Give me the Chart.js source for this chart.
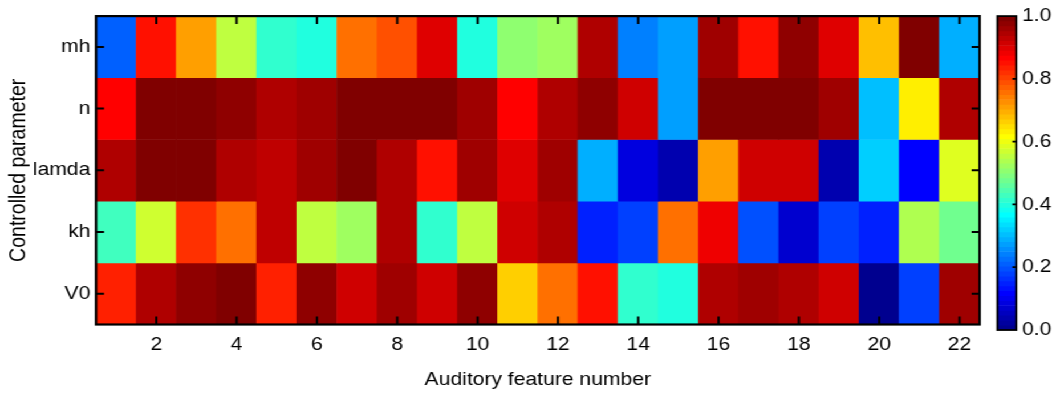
<!DOCTYPE html>
<html>
<head>
<meta charset="utf-8">
<title>Controlled parameter vs auditory feature</title>
<script src="https://cdn.jsdelivr.net/npm/chart.js@4.4.1/dist/chart.umd.min.js"></script>
<style>
  html, body { margin: 0; padding: 0; background: #fff; overflow: hidden; }
  /* the whole figure is drawn at a narrower width and widened horizontally */
  #stage { position: absolute; left: 0; top: 0; width: 926px; height: 394px;
           transform: scaleX(1.1404); transform-origin: 0 0; }
  #heat { position: absolute; left: 0; top: 0; width: 866px; height: 394px; }
  #bar  { position: absolute; left: 866px; top: 0; width: 60px; height: 394px; }
</style>
</head>
<body>
<div id="stage">
  <div id="heat"><canvas id="heatCanvas"></canvas></div>
  <div id="bar"><canvas id="barCanvas"></canvas></div>
</div>
<script>
// ---- data -------------------------------------------------------------
const featureNumbers = [1, 2, 3, 4, 5, 6, 7, 8, 9, 10, 11, 12, 13, 14, 15, 16, 17, 18, 19, 20, 21, 22];
const rowLabels = ['mh', 'n', 'lamda', 'kh', 'V0'];

const mh    = [0.211, 0.852, 0.711, 0.555, 0.414, 0.398, 0.758, 0.789, 0.898, 0.398, 0.508, 0.523, 0.945, 0.242, 0.273, 0.961, 0.852, 0.977, 0.898, 0.680, 0.992, 0.289];
const n     = [0.867, 0.992, 0.992, 0.977, 0.945, 0.961, 0.992, 0.992, 0.992, 0.961, 0.867, 0.945, 0.977, 0.914, 0.273, 0.992, 0.992, 0.992, 0.961, 0.305, 0.633, 0.945];
const lamda = [0.945, 0.992, 0.992, 0.945, 0.930, 0.961, 0.992, 0.945, 0.852, 0.961, 0.898, 0.961, 0.289, 0.086, 0.039, 0.711, 0.914, 0.914, 0.039, 0.320, 0.117, 0.586];
const kh    = [0.430, 0.570, 0.820, 0.758, 0.930, 0.555, 0.523, 0.945, 0.414, 0.555, 0.914, 0.945, 0.148, 0.180, 0.758, 0.883, 0.195, 0.070, 0.180, 0.148, 0.539, 0.477];
const V0    = [0.836, 0.945, 0.977, 0.992, 0.836, 0.977, 0.914, 0.961, 0.914, 0.977, 0.664, 0.758, 0.852, 0.414, 0.398, 0.945, 0.961, 0.945, 0.914, 0.008, 0.180, 0.961];

const xTickValues = [2, 4, 6, 8, 10, 12, 14, 16, 18, 20, 22];
const colorbarTicks = [0, 0.2, 0.4, 0.6, 0.8, 1.0];

// ---- 64-level jet colour map ------------------------------------------
const LEVELS = 64;
function jetLevel(i) {           // i = 1..64
  const u = k => (k <= 16 ? k / 16 : (k <= 31 ? 1 : (48 - k) / 16));
  const r = i >= 25 ? u(i - 24) : 0;
  const g = (i >= 9 && i <= 55) ? u(i - 8) : 0;
  const b = i <= 39 ? u(i + 8) : 0;
  return `rgb(${Math.round(r * 255)},${Math.round(g * 255)},${Math.round(b * 255)})`;
}
function jetColor(v) {
  const i = Math.min(LEVELS, Math.max(1, Math.floor(v * LEVELS) + 1));
  return jetLevel(i);
}

const SX = 1.1404;               // horizontal widening of #stage
const FONT = "'Liberation Sans', Arial, Helvetica, sans-serif";
Chart.defaults.font.family = FONT;
Chart.defaults.font.size = 18.5;
Chart.defaults.color = '#000';
Chart.defaults.animation = false;

// ---- heat map ---------------------------------------------------------
const rows = [mh, n, lamda, kh, V0];
const heatDatasets = rows.map((row, r) => ({
  label: rowLabels[r],
  data: row.map((v, c) => ({ x: featureNumbers[c], y: [r + 0.5, r + 1.5] })),
  backgroundColor: row.map(jetColor),
  borderWidth: 0,
  grouped: false,
  barPercentage: 1,
  categoryPercentage: 1
}));

// box round the plot with short inward ticks on all four sides
const boxTicks = {
  id: 'boxTicks',
  afterDatasetsDraw(chart) {
    const { ctx, chartArea: a, scales } = chart;
    const L = 8, Lh = 8 / SX;
    ctx.save();
    ctx.strokeStyle = '#000';
    ctx.lineWidth = 2;
    ctx.beginPath();
    scales.x.ticks.forEach(t => {
      const px = scales.x.getPixelForValue(t.value);
      ctx.moveTo(px, a.bottom); ctx.lineTo(px, a.bottom - L);
      ctx.moveTo(px, a.top);    ctx.lineTo(px, a.top + L);
    });
    scales.y.ticks.forEach(t => {
      const py = scales.y.getPixelForValue(t.value);
      ctx.moveTo(a.left, py);  ctx.lineTo(a.left + Lh, py);
      ctx.moveTo(a.right, py); ctx.lineTo(a.right - Lh, py);
    });
    ctx.stroke();
    ctx.lineWidth = 2.2;
    ctx.strokeRect(a.left, a.top, a.right - a.left, a.bottom - a.top);
    ctx.restore();
  }
};

new Chart(document.getElementById('heatCanvas'), {
  type: 'bar',
  data: { datasets: heatDatasets },
  options: {
    responsive: true,
    maintainAspectRatio: false,
    layout: { padding: { left: 0, top: 14.5, right: 7, bottom: 0 } },
    plugins: { legend: { display: false }, tooltip: { enabled: false } },
    scales: {
      x: {
        type: 'linear', min: 0.5, max: 22.5, offset: false,
        afterBuildTicks: ax => { ax.ticks = xTickValues.map(v => ({ value: v })); },
        afterFit: ax => { ax.height = 69.5; },
        ticks: { callback: v => String(v), padding: 9, maxRotation: 0, autoSkip: false },
        grid: { display: false, drawTicks: false, offset: false },
        border: { display: false },
        title: { display: true, text: 'Auditory feature number', padding: { top: 0, bottom: 3 } }
      },
      y: {
        type: 'linear', min: 0.5, max: 5.5, reverse: true,
        afterBuildTicks: ax => { ax.ticks = rowLabels.map((_, i) => ({ value: i + 1 })); },
        afterFit: ax => { ax.width = 84.2; },
        ticks: { callback: v => rowLabels[v - 1], padding: 5, autoSkip: false },
        grid: { display: false, drawTicks: false },
        border: { display: false },
        title: { display: true, text: 'Controlled parameter', font: { size: 19.5 }, padding: { top: 5, bottom: 0 } }
      }
    }
  },
  plugins: [boxTicks]
});

// ---- colour bar -------------------------------------------------------
const levelIndex = Array.from({ length: LEVELS }, (_, k) => k + 1);

const barFrame = {
  id: 'barFrame',
  afterDatasetsDraw(chart) {
    const { ctx, chartArea: a, scales: { y } } = chart;
    ctx.save();
    ctx.strokeStyle = '#000';
    ctx.lineWidth = 1.8;
    ctx.beginPath();
    y.ticks.forEach(t => {
      if (t.value <= 0 || t.value >= 1) return;
      const py = y.getPixelForValue(t.value);
      ctx.moveTo(a.right, py); ctx.lineTo(a.right - 4 / SX, py);
    });
    ctx.stroke();
    ctx.strokeRect(a.left, a.top, a.right - a.left, a.bottom - a.top);
    ctx.restore();
  }
};

new Chart(document.getElementById('barCanvas'), {
  type: 'bar',
  data: {
    datasets: [{
      data: levelIndex.map(i => ({ x: 0.5, y: [(i - 1) / LEVELS, i / LEVELS] })),
      backgroundColor: levelIndex.map(jetLevel),
      borderWidth: 0,
      barPercentage: 1,
      categoryPercentage: 1
    }]
  },
  options: {
    responsive: true,
    maintainAspectRatio: false,
    layout: { padding: { left: 8.6, top: 14.5, right: 0, bottom: 64 } },
    plugins: { legend: { display: false }, tooltip: { enabled: false } },
    scales: {
      x: {
        type: 'linear', min: 0, max: 1, display: false, offset: false,
        afterBuildTicks: ax => { ax.ticks = [{ value: 0 }, { value: 1 }]; }
      },
      y: {
        type: 'linear', position: 'right', min: 0, max: 1,
        afterBuildTicks: ax => { ax.ticks = colorbarTicks.map(v => ({ value: v })); },
        afterFit: ax => { ax.width = 34.8; },
        ticks: { callback: v => v.toFixed(1), padding: 5, autoSkip: false },
        grid: { display: false, drawTicks: false },
        border: { display: false }
      }
    }
  },
  plugins: [barFrame]
});
</script>
</body>
</html>
